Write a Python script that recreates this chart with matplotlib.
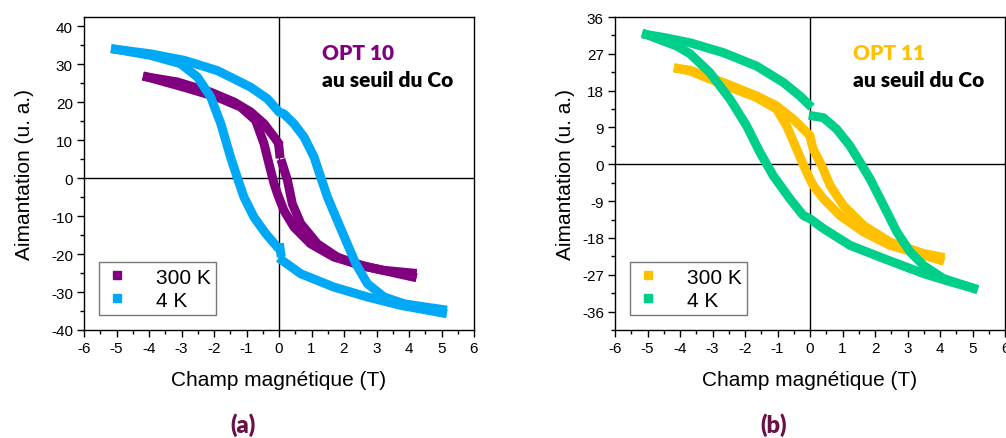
import numpy as np
import matplotlib
matplotlib.use("Agg")
import matplotlib.pyplot as plt
from matplotlib.lines import Line2D
from matplotlib.ticker import MultipleLocator

nan = np.nan

# ---- (a) OPT 10 ----
# 4 K, outer branch (high on the left, crosses 0 near +1.3 T)
a4k_up_x = [-5.03, -3.95, -2.92, -1.9, -1.38, -0.87, -0.36, -0.1, 0.0, 0.15, 0.46, 0.77, 1.08, 1.28, 1.49,
            1.79, 2.1, 2.36, 2.72, 3.23, 3.85, 4.46, 5.03]
a4k_up_y = [33.9, 32.7, 31.0, 28.3, 26.1, 23.9, 20.9, 18.4, 17.4, 16.9, 14.3, 10.8, 5.5, 0.3, -5.0,
            -11.1, -17.3, -22.5, -27.8, -31.3, -33.1, -33.9, -34.6]
# 4 K, inner branch (crosses 0 near -1.28 T)
a4k_dn_x = [-5.03, -3.95, -3.03, -2.51, -2.1, -1.79, -1.49, -1.28, -1.08, -0.77, -0.41, -0.1, nan,
            0.03, 0.05, nan, 0.1, 0.67, 1.69, 2.72, 3.74, 5.03]
a4k_dn_y = [33.9, 32.3, 30.1, 26.6, 21.3, 14.3, 5.5, 0.0, -5.0, -10.3, -14.6, -17.7, nan,
            -18.4, -19.6, nan, -21.7, -25.2, -28.7, -31.3, -33.5, -35.5]
# 300 K, outer branch
a300_up_x = [-4.05, -3.13, -2.1, -1.38, -0.87, -0.46, -0.15, -0.05, nan, 0.0, 0.02, nan,
             0.1, 0.26, 0.41, 0.67, 1.18, 1.79, 2.51, 3.23, 4.1]
a300_up_y = [26.6, 25.3, 22.6, 20.0, 17.4, 14.3, 10.8, 9.6, nan, 8.0, 6.4, nan,
             3.8, -0.6, -6.8, -12.0, -17.3, -20.8, -23.0, -24.3, -25.0]
# 300 K, inner branch
a300_dn_x = [-4.05, -2.92, -1.9, -1.18, -0.72, -0.46, -0.31, -0.15, -0.05, 0.15, 0.46, 0.97, 1.69, 2.72, 4.1]
a300_dn_y = [26.6, 23.9, 21.3, 18.7, 15.2, 9.0, 3.8, -1.5, -4.1, -8.5, -12.9, -17.3, -20.8, -23.4, -26.0]

# ---- (b) OPT 11 ----
b4k_up_x = [-5.03, -4.5, -3.69, -2.67, -1.64, -0.82, -0.31, -0.05, nan, 0.1, 0.41, 0.82, 1.23, 1.54, 1.85,
            2.26, 2.67, 3.08, 3.49, 4.1, 5.03]
b4k_up_y = [31.7, 31.0, 29.7, 27.3, 24.0, 20.0, 16.7, 14.7, nan, 11.8, 11.4, 8.6, 4.5, 0.5, -3.6,
            -10.0, -16.5, -21.4, -24.7, -27.9, -30.3]
b4k_dn_x = [-5.03, -4.1, -3.69, -3.08, -2.46, -1.95, -1.54, -1.13, -0.62, -0.21, 0.0, 0.41, 1.23, 2.26,
            3.49, 4.31, 5.03]
b4k_dn_y = [31.7, 28.9, 27.0, 22.4, 15.9, 9.4, 2.9, -2.8, -8.4, -12.5, -13.3, -15.7, -19.8, -23.0,
            -26.7, -28.7, -30.3]
b300_up_x = [-4.05, -3.69, -2.67, -1.64, -1.03, -0.51, -0.1, 0.0, 0.04, 0.1, 0.36, 0.62, 1.03, 1.64,
             2.46, 3.49, 4.0]
b300_up_y = [23.4, 23.0, 20.0, 16.7, 14.3, 11.0, 7.8, 7.0, 5.4, 3.7, -0.3, -5.2, -10.1, -14.9,
             -19.0, -21.8, -22.6]
b300_dn_x = [-4.05, -3.69, -2.67, -1.64, -1.03, -0.72, -0.41, -0.15, -0.05, 0.1, 0.41, 0.92, 1.64,
             2.46, 3.49, 4.0]
b300_dn_y = [23.4, 22.8, 19.5, 16.3, 13.5, 9.4, 3.7, -1.1, -2.8, -5.2, -8.4, -12.5, -16.5,
             -19.8, -22.2, -23.4]

labels = ["300 K", "4 K"]
sample_names = ["OPT 10", "OPT 11"]
panel_tags = ["(a)", "(b)"]

c_purple = "#800080"
c_blue = "#00a8f5"
c_orange = "#ffc000"
c_green = "#00cf8c"
c_tag = "#6a1148"

plt.rcParams["font.family"] = ["Liberation Sans", "DejaVu Sans"]
plt.rcParams["axes.unicode_minus"] = False

fig = plt.figure(figsize=(10.06, 4.39), dpi=100)
ax_a = fig.add_axes([84 / 1006, 1 - 331 / 439, 390 / 1006, 313 / 439])
ax_b = fig.add_axes([615 / 1006, 1 - 331 / 439, 390 / 1006, 313 / 439])

lw = 6.5


def draw_loop(ax, branches, color):
    for x, y in branches:
        ax.plot(x, y, color=color, lw=lw, solid_capstyle="projecting", solid_joinstyle="round", zorder=3)


draw_loop(ax_a, [(a300_up_x, a300_up_y), (a300_dn_x, a300_dn_y)], c_purple)
draw_loop(ax_a, [(a4k_up_x, a4k_up_y), (a4k_dn_x, a4k_dn_y)], c_blue)
draw_loop(ax_b, [(b300_up_x, b300_up_y), (b300_dn_x, b300_dn_y)], c_orange)
draw_loop(ax_b, [(b4k_up_x, b4k_up_y), (b4k_dn_x, b4k_dn_y)], c_green)

ax_a.set_ylim(-40, 42.4)
ax_a.yaxis.set_major_locator(MultipleLocator(10))
ax_a.yaxis.set_minor_locator(MultipleLocator(5))
ax_b.set_ylim(-40.5, 36)
ax_b.yaxis.set_major_locator(MultipleLocator(9))
ax_b.yaxis.set_minor_locator(MultipleLocator(4.5))

for ax, cols, name, tag, ypad in [(ax_a, (c_purple, c_blue), sample_names[0], panel_tags[0], 12),
                                  (ax_b, (c_orange, c_green), sample_names[1], panel_tags[1], 5)]:
    ax.set_xlim(-6, 6)
    ax.xaxis.set_major_locator(MultipleLocator(1))
    ax.xaxis.set_minor_locator(MultipleLocator(0.5))
    ax.axhline(0, color="black", lw=1, zorder=2)
    ax.axvline(0, color="black", lw=1, zorder=2)
    ax.tick_params(which="major", direction="out", length=5, width=1, labelsize=11, pad=3)
    ax.tick_params(which="minor", direction="out", length=3, width=1)
    for s in ax.spines.values():
        s.set_linewidth(1)
    ax.set_xlabel("Champ magnétique (T)", fontsize=15, labelpad=11)
    ax.set_ylabel("Aimantation (u. a.)", fontsize=15, labelpad=ypad)
    ax.text(0.61, 0.885, name, transform=ax.transAxes, color=cols[0], fontsize=15,
            fontweight="heavy", family=["Lato", "DejaVu Sans"], va="center")
    ax.text(0.61, 0.80, "au seuil du Co", transform=ax.transAxes, color="black", fontsize=15,
            fontweight="heavy", family=["Lato", "DejaVu Sans"], va="center")
    handles = [Line2D([], [], ls="none", marker="s", ms=6, color=c) for c in cols]
    leg = ax.legend(handles, labels, loc="lower left", bbox_to_anchor=(0.038, 0.048), fontsize=15,
                    frameon=True, fancybox=False, edgecolor="#555555", handlelength=1.2,
                    handletextpad=1.3, borderpad=0.25, labelspacing=0.2, borderaxespad=0)
    leg.get_frame().set_linewidth(1)
    pos = ax.get_position()
    fig.text(pos.x0 + pos.width / 2 - 36 / 1006, 1 - 425 / 439, tag, color=c_tag, fontsize=17,
             fontweight="heavy", family=["Lato", "DejaVu Sans"], ha="center", va="center")

fig.savefig("out.png", dpi=100)
